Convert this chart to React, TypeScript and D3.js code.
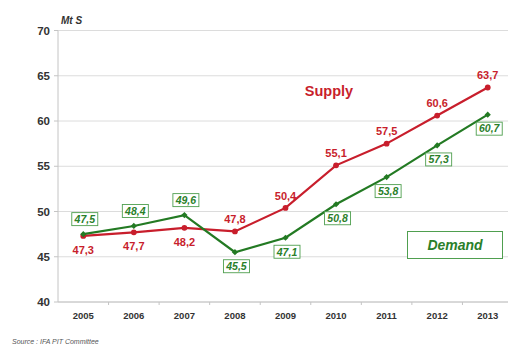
import React from "react";
import * as d3 from "d3";

const years = ["2005", "2006", "2007", "2008", "2009", "2010", "2011", "2012", "2013"];
const supply = [47.3, 47.7, 48.2, 47.8, 50.4, 55.1, 57.5, 60.6, 63.7];
const demand = [47.5, 48.4, 49.6, 45.5, 47.1, 50.8, 53.8, 57.3, 60.7];
const yTicks = [40, 45, 50, 55, 60, 65, 70];

const W = 508;
const H = 345;
const RED = "#c81e2c";
const GREEN = "#237a23";
const GREEN_TXT = "#2a802a";

const fmt = (v: number) => d3.format(".1f")(v).replace(".", ",");

export default function App() {
  const x = d3.scaleBand<string>().domain(years).range([58, 513]).padding(0);
  const y = d3.scaleLinear().domain([40, 70]).range([302, 30.5]);
  const cx = (i: number) => (x(years[i]) as number) + x.bandwidth() / 2;

  const line = d3
    .line<number>()
    .x((_, i) => cx(i))
    .y((d) => y(d));

  const font = "Arial, 'Liberation Sans', sans-serif";

  return (
    <svg
      width={W}
      height={H}
      style={{ position: "absolute", left: 0, top: 0, background: "#fff" }}
      fontFamily={font}
    >
      {/* gridlines */}
      {yTicks.map((t) => (
        <line key={"g" + t} x1={58} x2={W} y1={y(t)} y2={y(t)} stroke="#dcdcdc" strokeWidth={1} />
      ))}
      {/* y axis */}
      <line x1={58} x2={58} y1={y(70)} y2={y(40)} stroke="#c4c4c4" strokeWidth={1} />
      {yTicks.map((t) => (
        <g key={"yt" + t}>
          <line x1={54} x2={58} y1={y(t)} y2={y(t)} stroke="#c4c4c4" />
          <text
            x={50}
            y={y(t)}
            dy="0.35em"
            textAnchor="end"
            fontSize={11.5}
            fontWeight="bold"
            fill="#333"
          >
            {t}
          </text>
        </g>
      ))}
      {/* x axis */}
      <line x1={58} x2={W} y1={y(40)} y2={y(40)} stroke="#c4c4c4" strokeWidth={1} />
      {years.map((yr, i) => (
        <g key={"xt" + yr}>
          <line
            x1={(x(yr) as number) + x.bandwidth()}
            x2={(x(yr) as number) + x.bandwidth()}
            y1={y(40)}
            y2={y(40) + 3}
            stroke="#c4c4c4"
          />
          <text x={cx(i)} y={316} dy="0.35em" textAnchor="middle" fontSize={9.5} fontWeight="bold" fill="#333">
            {yr}
          </text>
        </g>
      ))}

      {/* unit */}
      <text x={61} y={24} fontSize={10} fontStyle="italic" fontWeight="bold" fill="#333">
        Mt S
      </text>

      {/* lines */}
      <path d={line(supply) as string} fill="none" stroke={RED} strokeWidth={2.2} />
      <path d={line(demand) as string} fill="none" stroke={GREEN} strokeWidth={2.2} />

      {supply.map((v, i) => (
        <circle key={"sp" + i} cx={cx(i)} cy={y(v)} r={2.9} fill={RED} />
      ))}
      {demand.map((v, i) => (
        <rect
          key={"dp" + i}
          x={cx(i) - 2.2}
          y={y(v) - 2.2}
          width={4.4}
          height={4.4}
          fill={GREEN}
          transform={`rotate(45 ${cx(i)} ${y(v)})`}
        />
      ))}

      {/* supply labels */}
      {supply.map((v, i) => (
        <text
          key={"sl" + i}
          x={cx(i)}
          y={y(v) + (i < 3 ? 14 : -12)}
          dy="0.35em"
          textAnchor="middle"
          fontSize={11}
          fontWeight="bold"
          fill={RED}
        >
          {fmt(v)}
        </text>
      ))}

      {/* demand labels */}
      {demand.map((v, i) => {
        const ly = y(v) + (i < 3 ? -15 : 14);
        const lx = cx(i) + 1.5;
        return (
          <g key={"dl" + i}>
            <rect x={lx - 13} y={ly - 6.5} width={26} height={13} fill="#fff" stroke="#4f9f4f" strokeWidth={0.9} />
            <text
              x={lx}
              y={ly}
              dy="0.36em"
              textAnchor="middle"
              fontSize={10.5}
              fontWeight="bold"
              fontStyle="italic"
              fill={GREEN_TXT}
            >
              {fmt(v)}
            </text>
          </g>
        );
      })}

      {/* series names */}
      <text x={329} y={91} dy="0.35em" textAnchor="middle" fontSize={14.5} fontWeight="bold" fill={RED}>
        Supply
      </text>
      <rect x={407.5} y={231.5} width={95} height={27} fill="#fff" stroke="#4f9f4f" strokeWidth={1} />
      <text
        x={455}
        y={245}
        dy="0.35em"
        textAnchor="middle"
        fontSize={14}
        fontWeight="bold"
        fontStyle="italic"
        fill={GREEN_TXT}
      >
        Demand
      </text>

      {/* source */}
      <text x={12} y={344} fontSize={7} fontStyle="italic" fill="#555">
        Source : IFA PIT Committee
      </text>
    </svg>
  );
}
